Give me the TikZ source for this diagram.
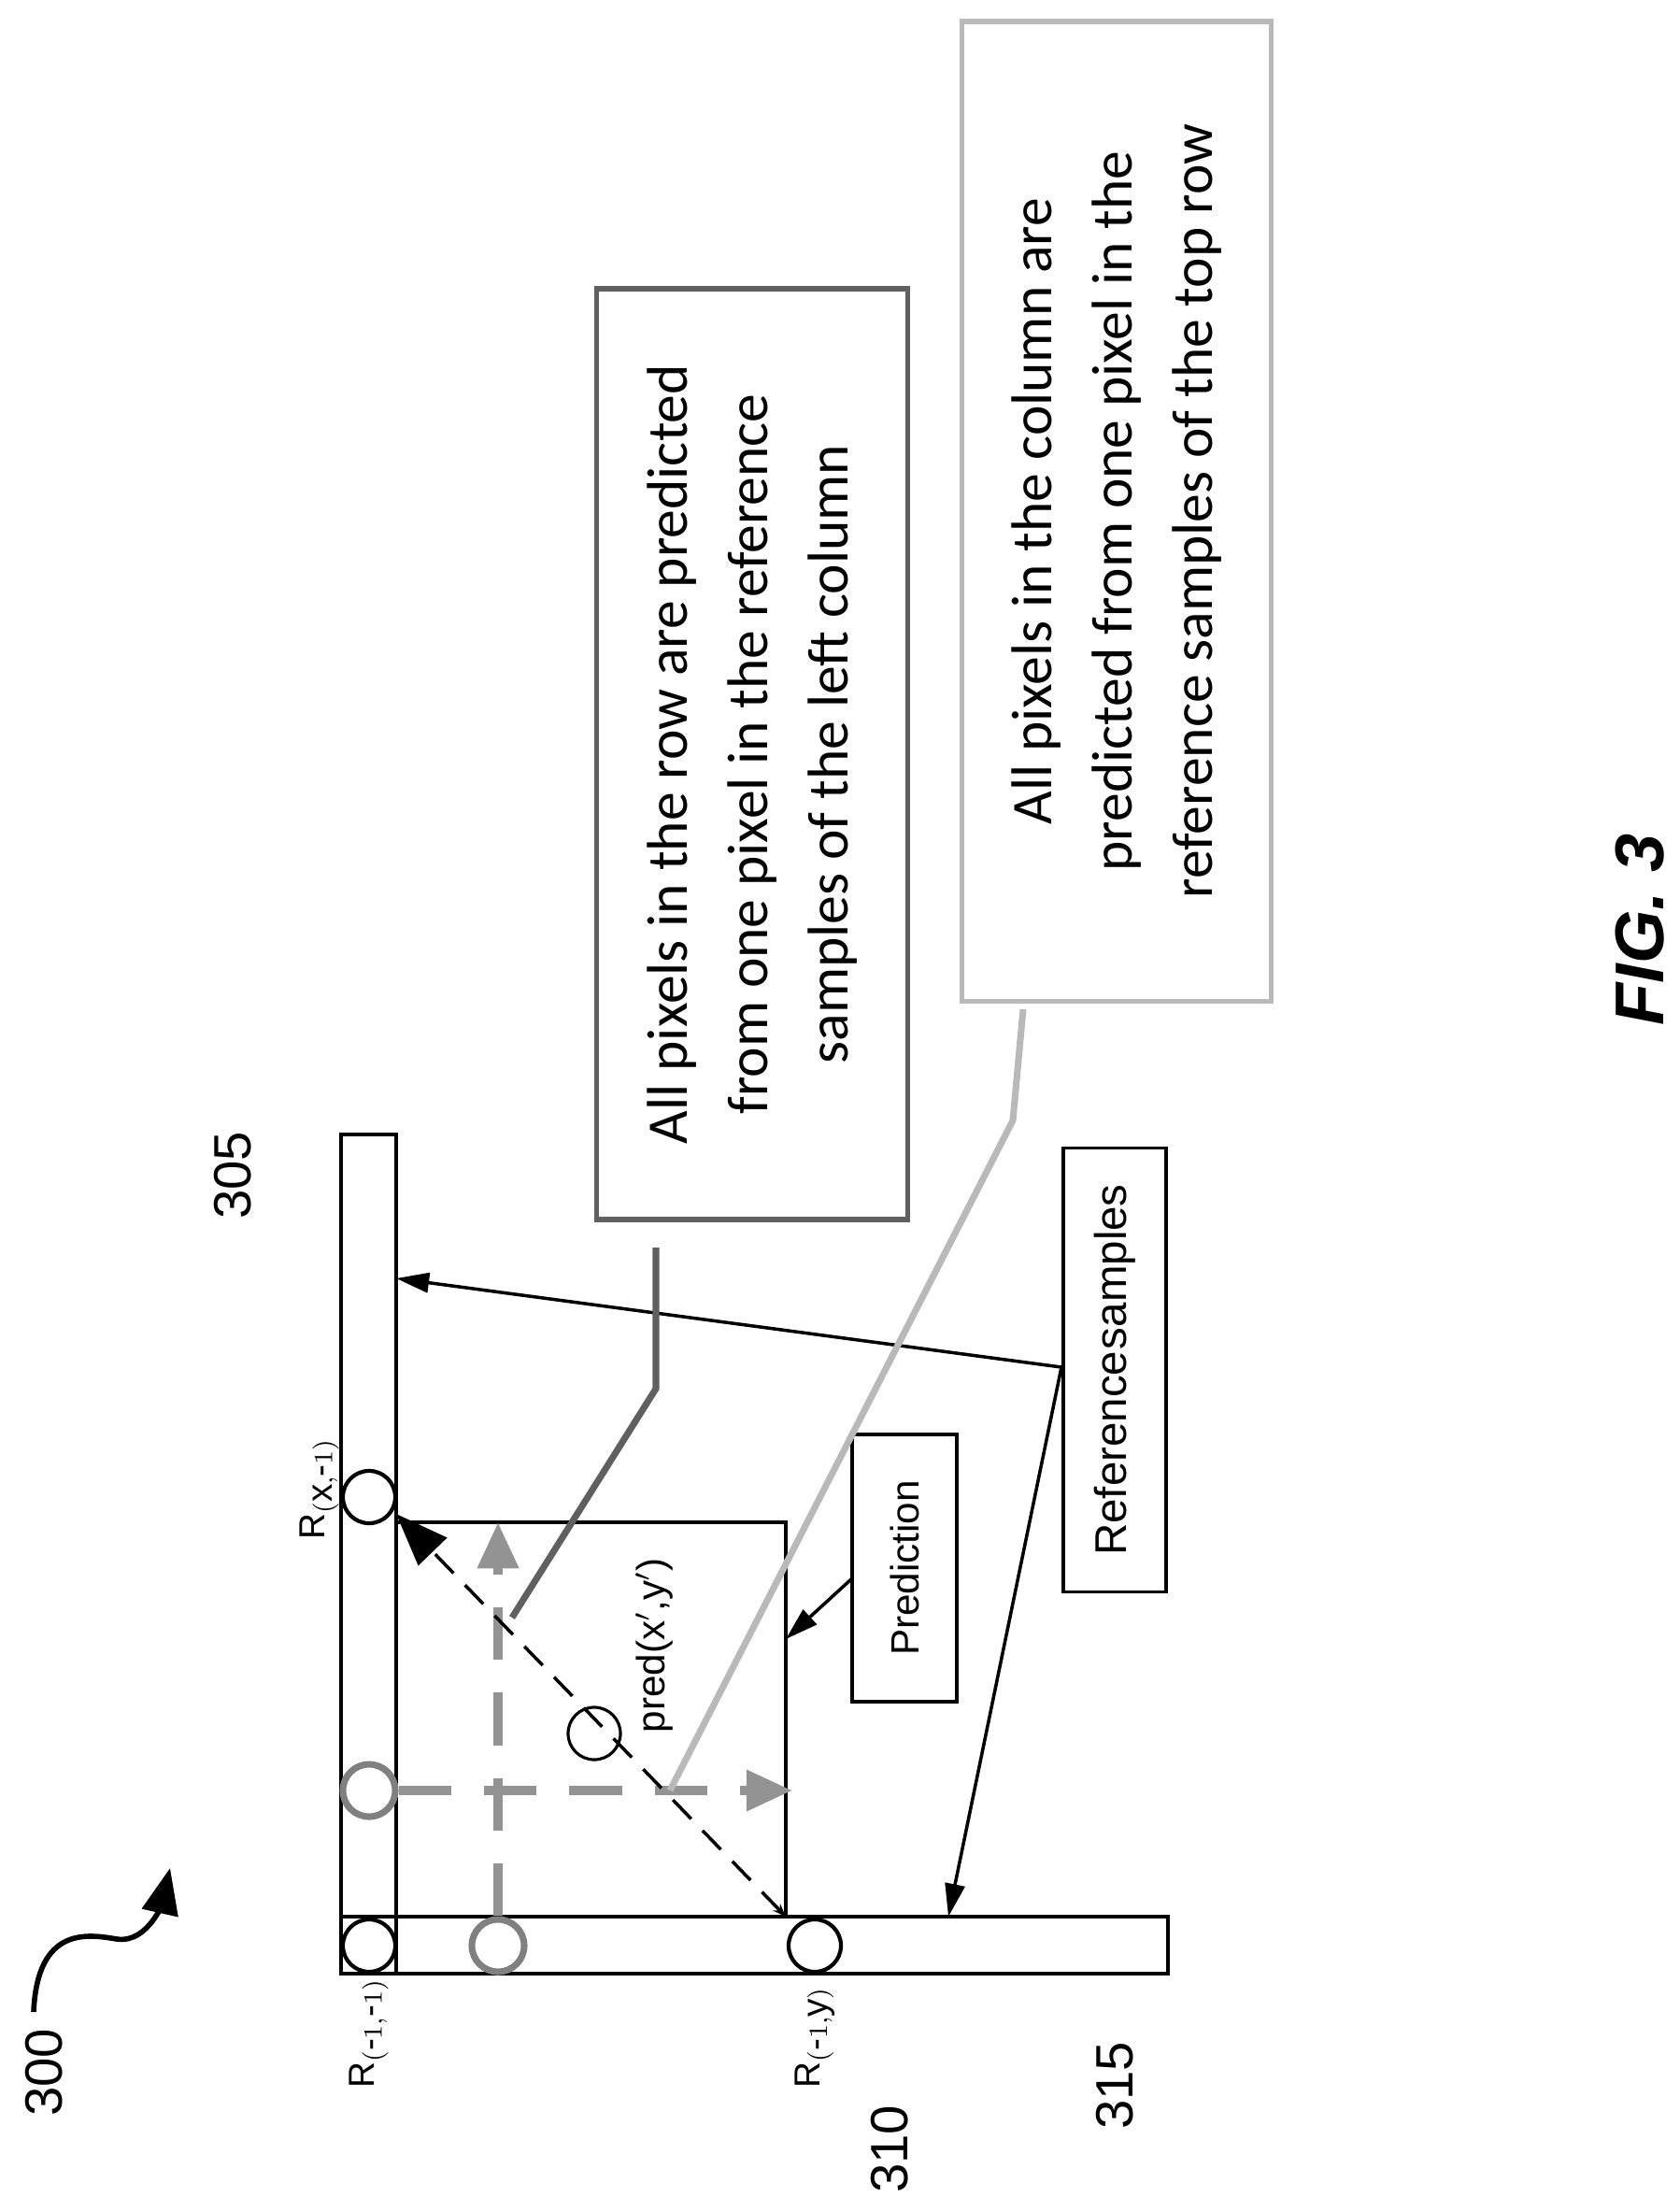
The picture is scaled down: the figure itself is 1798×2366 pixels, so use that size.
\documentclass[tikz,border=0pt]{standalone}
\usepackage{fontspec}
\setmainfont{Liberation Sans}
\newfontfamily\boxfont{Carlito}
\usetikzlibrary{positioning,arrows.meta}

\tikzset{
  pix/.style={circle, draw, line width=1.2pt, minimum size=0.56cm, inner sep=0pt},
  gpix/.style={pix, draw=gray, line width=2pt},
  lbl/.style={rotate=90, inner sep=0pt},
  note/.style={draw, rotate=90, line width=1.6pt, align=center, inner sep=0pt,
    font=\boxfont\fontsize{17.5}{24.5}\selectfont},
  tag/.style={draw, rotate=90, line width=1pt, inner sep=0pt, font=\fontsize{12}{14}\selectfont},
  gdash/.style={draw=gray!85, line width=2.8pt, dash pattern=on 16pt off 10pt},
  tip/.style={-{Triangle[length=10pt,width=6pt]}}
}

\begin{document}
\begin{tikzpicture}[x=0.01cm, y=-0.01cm]
  \useasboundingbox (0,0) rectangle (1798,2366);

  % reference rows and prediction block
  \draw[line width=1.2pt] (365,1214) rectangle (424,2112);
  \draw[line width=1.2pt] (365,2051) rectangle (1250,2112);
  \draw[line width=1.2pt] (424,1629) rectangle (841,2051);

  % pixels
  \node[pix] (rxm) at (395,1602) {};
  \node[pix] (rmm) at (395,2082) {};
  \node[pix] (rmy) at (872,2082) {};
  \node[gpix] (gl) at (395,1916) {};
  \node[gpix] (gb) at (533,2082) {};
  \node[pix, line width=0.9pt] (pp) at (636,1855) {};

  % prediction directions
  \coordinate (dl) at (841,2051);
  \coordinate (ur) at (424,1620);
  \coordinate (vt) at (533,1629);
  \coordinate (hr) at (848,1916);
  \draw[gdash, -{Triangle[length=14pt,width=12pt]}] (gb.north) -- (vt);
  \draw[gdash, -{Triangle[length=14pt,width=12pt]}] (gl.east) -- (hr);
  \draw[dashed, line width=1pt, dash pattern=on 8pt off 5pt, {Stealth[length=4pt]}-{Triangle[length=16pt,width=12pt]}] (dl) -- (ur);

  % labels
  \node[lbl, font=\fontsize{11}{13}\selectfont] at (342,1593) {R$_{(\mbox{x},\mbox{-}1)}$};
  \node[lbl, font=\fontsize{11}{13}\selectfont] at (395,2176) {R$_{(\mbox{-}1,\mbox{-}1)}$};
  \node[lbl, font=\fontsize{11}{13}\selectfont] at (872,2180) {R$_{(\mbox{-}1,\mbox{y})}$};
  \node[lbl, font=\fontsize{12}{13}\selectfont] at (700,1761) {pred(x$'$,y$'$)};
  \node[lbl, font=\fontsize{16}{18}\selectfont] at (249,1258) {305};
  \node[lbl, font=\fontsize{16}{18}\selectfont] at (952,2300) {310};
  \node[lbl, font=\fontsize{16}{18}\selectfont] at (1193,2232) {315};
  \node[lbl, font=\fontsize{16}{18}\selectfont] (fig) at (47,2218) {300};
  \node[lbl, font=\bfseries\itshape\fontsize{21}{24}\selectfont] at (1755,995) {FIG. 3};

  % figure reference arrow
  \draw[line width=1.6pt, -{Triangle[length=14pt,width=11pt]}] (36,2153) .. controls (40,2060) and (95,2070) .. (125,2075) .. controls (160,2080) and (175,2030) .. (182,1999);

  % tag boxes
  \node[tag, minimum width=2.86cm, minimum height=1.12cm] (pred) at (968,1678) {Prediction};
  \node[tag, font=\fontsize{13.5}{15}\selectfont, minimum width=4.75cm, minimum height=1.10cm] (ref) at (1193,1466) {Reference\hspace{0.5pt}samples};
  \coordinate (refs) at (1136,1463);
  \coordinate (top) at (424,1368);
  \coordinate (left) at (1015,2051);
  \coordinate (blk) at (841,1754);
  \draw[line width=1pt, tip] (refs) -- (top);
  \draw[line width=1pt, tip] (refs) -- (left);
  \draw[line width=1pt, tip] (912,1689) -- (blk);

  % callout boxes
  \node[note, draw=gray!75!black, minimum width=9.96cm, minimum height=3.33cm] (rowbox) at (805,807)
    {All pixels in the row are predicted\\from one pixel in the reference\\samples of the left column};
  \node[note, draw=gray!55, minimum width=10.48cm, minimum height=3.31cm] (colbox) at (1195,547)
    {All pixels in the column are\\predicted from one pixel in the\\reference samples of the top row};
  \coordinate (rowa) at (548,1731);
  \coordinate (cola) at (717,1916);
  \draw[gray!75!black, line width=2pt] (rowa) -- (702,1486) -- (702,1335);
  \draw[gray!55, line width=2pt] (cola) -- (1084,1199) -- (1095,1080);
\end{tikzpicture}
\end{document}
